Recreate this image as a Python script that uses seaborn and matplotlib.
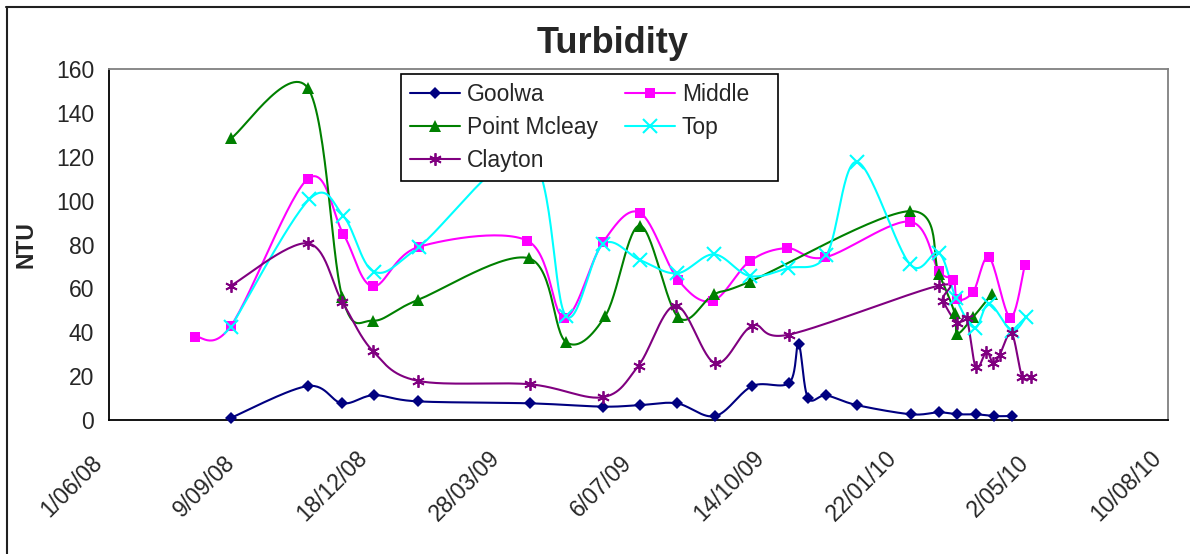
import numpy as np
import pandas as pd
import matplotlib
matplotlib.use("Agg")
import matplotlib.pyplot as plt
import matplotlib.dates as mdates
import matplotlib.transforms as mtransforms
from matplotlib.lines import Line2D
from matplotlib.patches import Rectangle
import seaborn as sns

# ---- data (NTU readings by sampling date) ----
goolwa_dates = ["2008-09-01", "2008-10-29", "2008-11-24", "2008-12-18", "2009-01-20",
                "2009-04-15", "2009-06-09", "2009-07-07", "2009-08-04", "2009-09-02",
                "2009-09-30", "2009-10-28", "2009-11-04", "2009-11-11", "2009-11-25",
                "2009-12-18", "2010-01-28", "2010-02-18", "2010-03-04", "2010-03-18",
                "2010-04-01", "2010-04-14"]
goolwa_ntu = [1, 15.5, 7.6, 11.3, 8.5, 7.6, 6.1, 6.8, 7.6, 1.8, 15.5, 17, 34.5, 10.2,
              11.2, 6.8, 2.6, 3.5, 2.6, 2.6, 1.8, 1.8]

middle_dates = ["2008-08-05", "2008-09-01", "2008-10-29", "2008-11-25", "2008-12-17",
                "2009-01-21", "2009-04-13", "2009-05-11", "2009-06-09", "2009-07-07",
                "2009-08-05", "2009-08-31", "2009-09-28", "2009-10-26", "2009-11-24",
                "2010-01-27", "2010-02-18", "2010-03-01", "2010-03-04", "2010-03-16",
                "2010-03-28", "2010-04-13", "2010-04-24"]
middle_ntu = [38, 43, 110, 84.7, 61, 79, 81.8, 46.7, 81, 94.6, 63.9, 54.3, 72.4, 78.4,
              74.2, 90.5, 68, 64, 55, 58.5, 74.2, 46.7, 70.7]

mcleay_dates = ["2008-09-01", "2008-10-29", "2008-11-24", "2008-12-17", "2009-01-20",
                "2009-04-14", "2009-05-12", "2009-06-11", "2009-07-07", "2009-08-05",
                "2009-09-01", "2009-09-28", "2010-01-27", "2010-02-18", "2010-03-02",
                "2010-03-04", "2010-03-16", "2010-03-30"]
mcleay_ntu = [128.5, 151.5, 56.3, 45.3, 54.7, 73.8, 35.7, 47.6, 88.7, 46.9, 57.3, 63.1,
              95.3, 66.8, 48.7, 39.4, 47, 57.4]

top_dates = ["2008-09-01", "2008-10-30", "2008-11-25", "2008-12-18", "2009-01-21",
             "2009-04-14", "2009-05-12", "2009-06-09", "2009-07-07", "2009-08-04",
             "2009-09-01", "2009-09-28", "2009-10-27", "2009-11-25", "2009-12-18",
             "2010-01-27", "2010-02-18", "2010-03-03", "2010-03-17", "2010-03-28",
             "2010-04-14", "2010-04-25"]
top_ntu = [42.5, 100.6, 93, 67.7, 79, 121, 47.6, 80.1, 73, 66.9, 75.6, 65.7, 69.3, 75.2,
           117.8, 71.2, 76.2, 55.5, 42, 53, 40.8, 47]

clayton_dates = ["2008-09-01", "2008-10-29", "2008-11-24", "2008-12-17", "2009-01-20",
                 "2009-04-15", "2009-06-09", "2009-07-06", "2009-08-03", "2009-09-02",
                 "2009-09-30", "2009-10-28", "2010-02-18", "2010-02-21", "2010-03-04",
                 "2010-03-11", "2010-03-18", "2010-03-26", "2010-03-31", "2010-04-05",
                 "2010-04-14", "2010-04-22", "2010-04-29"]
clayton_ntu = [61.3, 80.6, 54, 31.6, 17.9, 16.3, 10.4, 24.8, 52.2, 25.9, 43, 39, 61.3,
               54.5, 44.1, 46.4, 24, 31.2, 25.9, 29.8, 39.5, 19.8, 19.8]

series_names = ["Goolwa", "Middle", "Point Mcleay", "Top", "Clayton"]
tick_labels = ["1/06/08", "9/09/08", "18/12/08", "28/03/09", "6/07/09",
               "14/10/09", "22/01/10", "2/05/10", "10/08/10"]
y_ticks = [0, 20, 40, 60, 80, 100, 120, 140, 160]

# ---- styling ----
colors = {"Goolwa": "#000080", "Middle": "#FF00FF", "Point Mcleay": "#008000",
          "Top": "#00FFFF", "Clayton": "#800080"}
markers = {"Goolwa": dict(marker="D", ms=6.5, mew=0),
           "Middle": dict(marker="s", ms=6.5, mew=0),
           "Point Mcleay": dict(marker="^", ms=8, mew=0),
           "Top": dict(marker="x", ms=10, mew=1.5),
           "Clayton": dict(marker=(6, 2, 0), ms=9, mew=1.3)}

data = {
    "Goolwa": (goolwa_dates, goolwa_ntu),
    "Middle": (middle_dates, middle_ntu),
    "Point Mcleay": (mcleay_dates, mcleay_ntu),
    "Top": (top_dates, top_ntu),
    "Clayton": (clayton_dates, clayton_ntu),
}


def smooth_curve(xs, ys, n=30):
    """Piecewise cubic Bezier through the points (spreadsheet-style smoothing)."""
    p = np.column_stack([xs, ys]).astype(float)
    pad = np.vstack([p[0], p, p[-1]])
    t = np.linspace(0, 1, n + 1)[1:, None]
    parts = [p[:1]]
    for i in range(len(p) - 1):
        p0, p3 = pad[i + 1], pad[i + 2]
        c1 = p0 + (pad[i + 2] - pad[i]) / 6.0
        c2 = p3 - (pad[i + 3] - pad[i + 1]) / 6.0
        seg = ((1 - t) ** 3) * p0 + 3 * ((1 - t) ** 2) * t * c1 \
            + 3 * (1 - t) * t ** 2 * c2 + t ** 3 * p3
        parts.append(seg)
    return np.vstack(parts)


sns.set_theme(style="white")
plt.rcParams["font.family"] = ["Liberation Sans", "DejaVu Sans"]

W, H = 1190, 554
fig = plt.figure(figsize=(W / 100, H / 100), dpi=100)
fig.patch.set_facecolor("white")

ax_l, ax_r, ax_t, ax_b = 109.3, 1167.7, 69.3, 420.0
ax = fig.add_axes([ax_l / W, 1 - ax_b / H, (ax_r - ax_l) / W, (ax_b - ax_t) / H])
ax.set_facecolor("white")

for name in series_names:
    dates, vals = data[name]
    xnum = mdates.date2num(pd.to_datetime(dates))
    curve = smooth_curve(xnum, vals)
    sns.lineplot(x=curve[:, 0], y=curve[:, 1], sort=False, estimator=None,
                 color=colors[name], linewidth=1.5, ax=ax, zorder=3)
    ax.plot(xnum, vals, linestyle="none", color=colors[name], zorder=4,
            clip_on=False, **markers[name])

tick_pos = mdates.date2num(pd.to_datetime(tick_labels, format="%d/%m/%y"))
ax.set_xlim(tick_pos[0], tick_pos[-1])
ax.set_ylim(0, 160)
ax.set_xticks(tick_pos)
ax.set_xticklabels(tick_labels, rotation=45, ha="right", va="center", fontsize=16.5)
ax.set_yticks(y_ticks)
ax.set_yticklabels([str(v) for v in y_ticks], fontsize=16.5)
ax.tick_params(axis="x", direction="out", length=5, width=1.0, color="black", pad=42.5)
ax.tick_params(axis="y", direction="out", length=5, width=1.0, color="black", pad=6)
shift = mtransforms.ScaledTranslation(-0.02, 0, fig.dpi_scale_trans)
for lab in ax.get_xticklabels():
    lab.set_transform(lab.get_transform() + shift)
ax.set_xlabel("")
ax.set_ylabel("")
ax.grid(False)

for side in ("left", "bottom"):
    ax.spines[side].set_color("black")
    ax.spines[side].set_linewidth(1.3)
for side in ("top", "right"):
    ax.spines[side].set_color("#808080")
    ax.spines[side].set_linewidth(1.3)

fig.text(612.5 / W, 1 - 53.3 / H, "Turbidity", ha="center", va="baseline",
         fontsize=26, fontweight="bold")
fig.text(26 / W, 1 - 245 / H, "NTU", rotation=90, ha="center", va="center",
         fontsize=16.5, fontweight="bold")

# chart border
fig.add_artist(Line2D([6 / W, 1.0], [1 - 6.5 / H, 1 - 6.5 / H], color="#202020",
                      lw=1.5, transform=fig.transFigure))
fig.add_artist(Line2D([6.5 / W, 6.5 / W], [0, 1 - 6.5 / H], color="#202020",
                      lw=1.5, transform=fig.transFigure))

# legend box
lx0, lx1, ly0, ly1 = 400.7, 778.0, 74.0, 181.0
fig.add_artist(Rectangle((lx0 / W, 1 - ly1 / H), (lx1 - lx0) / W, (ly1 - ly0) / H,
                         transform=fig.transFigure, facecolor="white",
                         edgecolor="black", lw=1.2, zorder=5))
order = ["Goolwa", "Point Mcleay", "Clayton", "Middle", "Top"]
handles = [Line2D([], [], color=colors[n], lw=1.5, **markers[n]) for n in order]
leg = fig.legend(handles, order, loc="upper left", ncol=2,
                 bbox_to_anchor=(410 / W, 1 - 82.7 / H), frameon=False,
                 fontsize=16.5, handlelength=2.2, handletextpad=0.28,
                 columnspacing=1.18, labelspacing=0.445, borderpad=0,
                 borderaxespad=0, numpoints=1)
leg.set_zorder(6)

fig.savefig("out.png", dpi=100, facecolor="white")
